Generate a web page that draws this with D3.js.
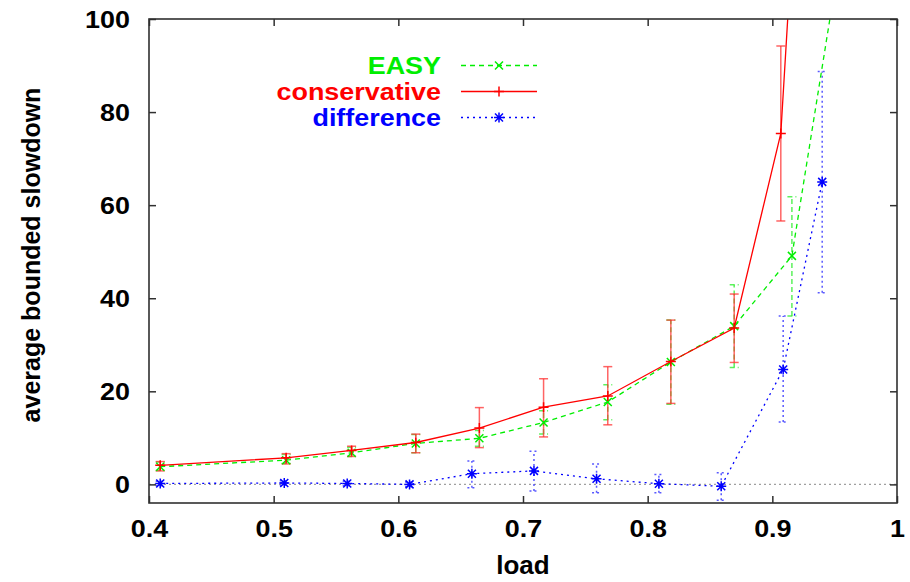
<!DOCTYPE html>
<html>
<head>
<meta charset="utf-8">
<script src="https://cdn.jsdelivr.net/npm/d3@7"></script>
<style>
  html, body { margin: 0; padding: 0; background: #fff; }
  svg { display: block; }
  text { font-family: "Liberation Sans", Arial, Helvetica, sans-serif; font-weight: bold; }
</style>
</head>
<body>
<svg id="chart" width="910" height="582"></svg>
<script>
// ---- data ----
const seriesNames = ["EASY", "conservative", "difference"];

const easyLoad = [0.409, 0.510, 0.5625, 0.614, 0.665, 0.7165, 0.768, 0.8186, 0.8694, 0.9157, 0.9665];
const easyVal  = [3.8, 5.2, 6.8, 8.8, 9.9, 13.3, 17.7, 26.3, 34.0, 49.1, 134];
const easyLo   = [3.0, 4.5, 6.0, 6.8, 8.2, 10.8, 13.9, 17.2, 25.1, 36.2, 110];
const easyHi   = [4.8, 6.4, 8.0, 10.7, 11.6, 15.8, 21.4, 35.3, 42.9, 61.8, 160];

const consLoad = [0.409, 0.510, 0.5625, 0.614, 0.665, 0.7165, 0.768, 0.8186, 0.8694, 0.9068, 0.9175];
const consVal  = [4.1, 5.7, 7.3, 9.0, 12.1, 16.6, 19.0, 26.4, 33.6, 75.4, 123];
const consLo   = [2.9, 4.4, 6.0, 6.8, 7.9, 10.2, 12.8, 17.4, 26.2, 56.6, 105];
const consHi   = [4.9, 6.6, 8.2, 10.8, 16.5, 22.7, 25.3, 35.3, 40.9, 94.2, 140];

const diffLoad = [0.409, 0.5085, 0.559, 0.609, 0.659, 0.7088, 0.759, 0.809, 0.859, 0.9087, 0.94];
const diffVal  = [0.2, 0.3, 0.2, 0.0, 2.3, 2.9, 1.2, 0.15, -0.4, 24.7, 65.0];
const diffLo   = [-0.3, -0.2, -0.3, -0.5, -0.7, -1.4, -1.8, -1.8, -3.4, 13.4, 41.2];
const diffHi   = [0.7, 0.8, 0.7, 0.5, 5.0, 7.1, 4.4, 2.1, 2.5, 36.2, 88.7];

const xTicks = [0.4, 0.5, 0.6, 0.7, 0.8, 0.9, 1.0];
const xTickLabels = ["0.4", "0.5", "0.6", "0.7", "0.8", "0.9", "1"];
const yTicks = [0, 20, 40, 60, 80, 100];

// ---- layout ----
const svg = d3.select("#chart");
const L = 149, R = 897, T = 19, B = 503;
const x = d3.scaleLinear().domain([0.4, 1.0]).range([L, R]);
const y = d3.scaleLinear().domain([-4, 100]).range([B, T]);
const SX = 1.17;

const series = [
  { name: seriesNames[0], load: easyLoad, val: easyVal, lo: easyLo, hi: easyHi,
    color: "#00ee00", errColor: "#33ee33", dash: "5,4", errDash: "5,3", marker: "x" },
  { name: seriesNames[1], load: consLoad, val: consVal, lo: consLo, hi: consHi,
    color: "#ff0000", errColor: "#ff3030", dash: null, errDash: null, marker: "plus" },
  { name: seriesNames[2], load: diffLoad, val: diffVal, lo: diffLo, hi: diffHi,
    color: "#0000ff", errColor: "#3030ff", dash: "2,4", errDash: "2,3", marker: "star" }
];

const markerPath = {
  x: "M-4,-4L4,4M-4,4L4,-4",
  plus: "M-5,0H5M0,-5V5",
  star: "M-4,-4L4,4M-4,4L4,-4M-5,0H5M0,-5V5"
};

svg.append("defs").append("clipPath").attr("id", "plotclip")
  .append("rect").attr("x", L).attr("y", T).attr("width", R - L).attr("height", B - T);

const plot = svg.append("g").attr("clip-path", "url(#plotclip)");

// zero line
plot.append("line")
  .attr("x1", L).attr("x2", R).attr("y1", y(0)).attr("y2", y(0))
  .attr("stroke", "#a0a0a0").attr("stroke-width", 1.2).attr("stroke-dasharray", "2,3");

// error bars
series.forEach(s => {
  const g = plot.append("g").attr("stroke", s.errColor).attr("stroke-width", 1.5)
    .attr("stroke-opacity", s.marker === "plus" ? 0.75 : 0.8)
    .attr("stroke-dasharray", s.errDash);
  s.load.forEach((ld, i) => {
    const cx = x(ld);
    g.append("line").attr("x1", cx).attr("x2", cx).attr("y1", y(s.lo[i])).attr("y2", y(s.hi[i]));
    g.append("line").attr("x1", cx - 4.5).attr("x2", cx + 4.5).attr("y1", y(s.lo[i])).attr("y2", y(s.lo[i]));
    g.append("line").attr("x1", cx - 4.5).attr("x2", cx + 4.5).attr("y1", y(s.hi[i])).attr("y2", y(s.hi[i]));
  });
});

// lines & markers
series.forEach(s => {
  const pts = s.load.map((ld, i) => [ld, s.val[i]]);
  plot.append("path")
    .datum(pts)
    .attr("fill", "none").attr("stroke", s.color).attr("stroke-width", 1.3)
    .attr("stroke-dasharray", s.dash)
    .attr("d", d3.line().x(d => x(d[0])).y(d => y(d[1])));
  plot.append("g").selectAll("path").data(pts).join("path")
    .attr("transform", d => `translate(${x(d[0])},${y(d[1])})`)
    .attr("d", markerPath[s.marker])
    .attr("stroke", s.color).attr("stroke-width", 1.5).attr("fill", "none");
});

// axes (gnuplot style: inward ticks, mirrored)
const axisColor = "#303030";
function styleAxis(g) {
  g.select(".domain").remove();
  g.selectAll(".tick line").attr("stroke", axisColor).attr("stroke-width", 1.5);
}
const xAxisB = svg.append("g").attr("transform", `translate(0,${B})`)
  .call(d3.axisBottom(x).tickValues(xTicks).tickFormat((d, i) => xTickLabels[i]).tickSizeInner(-7).tickSizeOuter(0).tickPadding(0));
styleAxis(xAxisB);
xAxisB.selectAll(".tick text")
  .attr("y", 34.5).attr("dy", null)
  .attr("fill", "#000").attr("font-size", 23)
  .attr("transform", `scale(${SX},1)`);

const xAxisT = svg.append("g").attr("transform", `translate(0,${T})`)
  .call(d3.axisTop(x).tickValues(xTicks).tickFormat("").tickSizeInner(-7).tickSizeOuter(0));
styleAxis(xAxisT);

const yAxisL = svg.append("g").attr("transform", `translate(${L},0)`)
  .call(d3.axisLeft(y).tickValues(yTicks).tickSizeInner(-7).tickSizeOuter(0).tickPadding(0));
styleAxis(yAxisL);
yAxisL.selectAll(".tick text")
  .attr("x", -19 / SX).attr("dy", "0.36em")
  .attr("fill", "#000").attr("font-size", 23)
  .attr("transform", `scale(${SX},1)`);

const yAxisR = svg.append("g").attr("transform", `translate(${R},0)`)
  .call(d3.axisRight(y).tickValues(yTicks).tickFormat("").tickSizeInner(-7).tickSizeOuter(0));
styleAxis(yAxisR);

// border
svg.append("rect").attr("x", L).attr("y", T).attr("width", R - L).attr("height", B - T)
  .attr("fill", "none").attr("stroke", axisColor).attr("stroke-width", 1.6);

// axis titles
svg.append("text").attr("x", (L + R) / 2).attr("y", 574)
  .attr("text-anchor", "middle").attr("font-size", 26).attr("fill", "#000")
  .text("load");
svg.append("text")
  .attr("transform", "translate(40,255) rotate(-90)")
  .attr("text-anchor", "middle").attr("font-size", 25).attr("fill", "#000")
  .text("average bounded slowdown");

// legend
const legY = [74, 100, 126];
series.forEach((s, i) => {
  svg.append("text").attr("transform", `translate(441,${legY[i]}) scale(${SX},1)`)
    .attr("text-anchor", "end").attr("font-size", 23).attr("fill", s.color)
    .text(s.name);
  const ly = legY[i] - 8.5;
  svg.append("line").attr("x1", 461).attr("x2", 537).attr("y1", ly).attr("y2", ly)
    .attr("stroke", s.color).attr("stroke-width", 1.3).attr("stroke-dasharray", s.dash);
  svg.append("path").attr("transform", `translate(499,${ly})`).attr("d", markerPath[s.marker])
    .attr("stroke", s.color).attr("stroke-width", 1.5).attr("fill", "none");
});
</script>
</body>
</html>
